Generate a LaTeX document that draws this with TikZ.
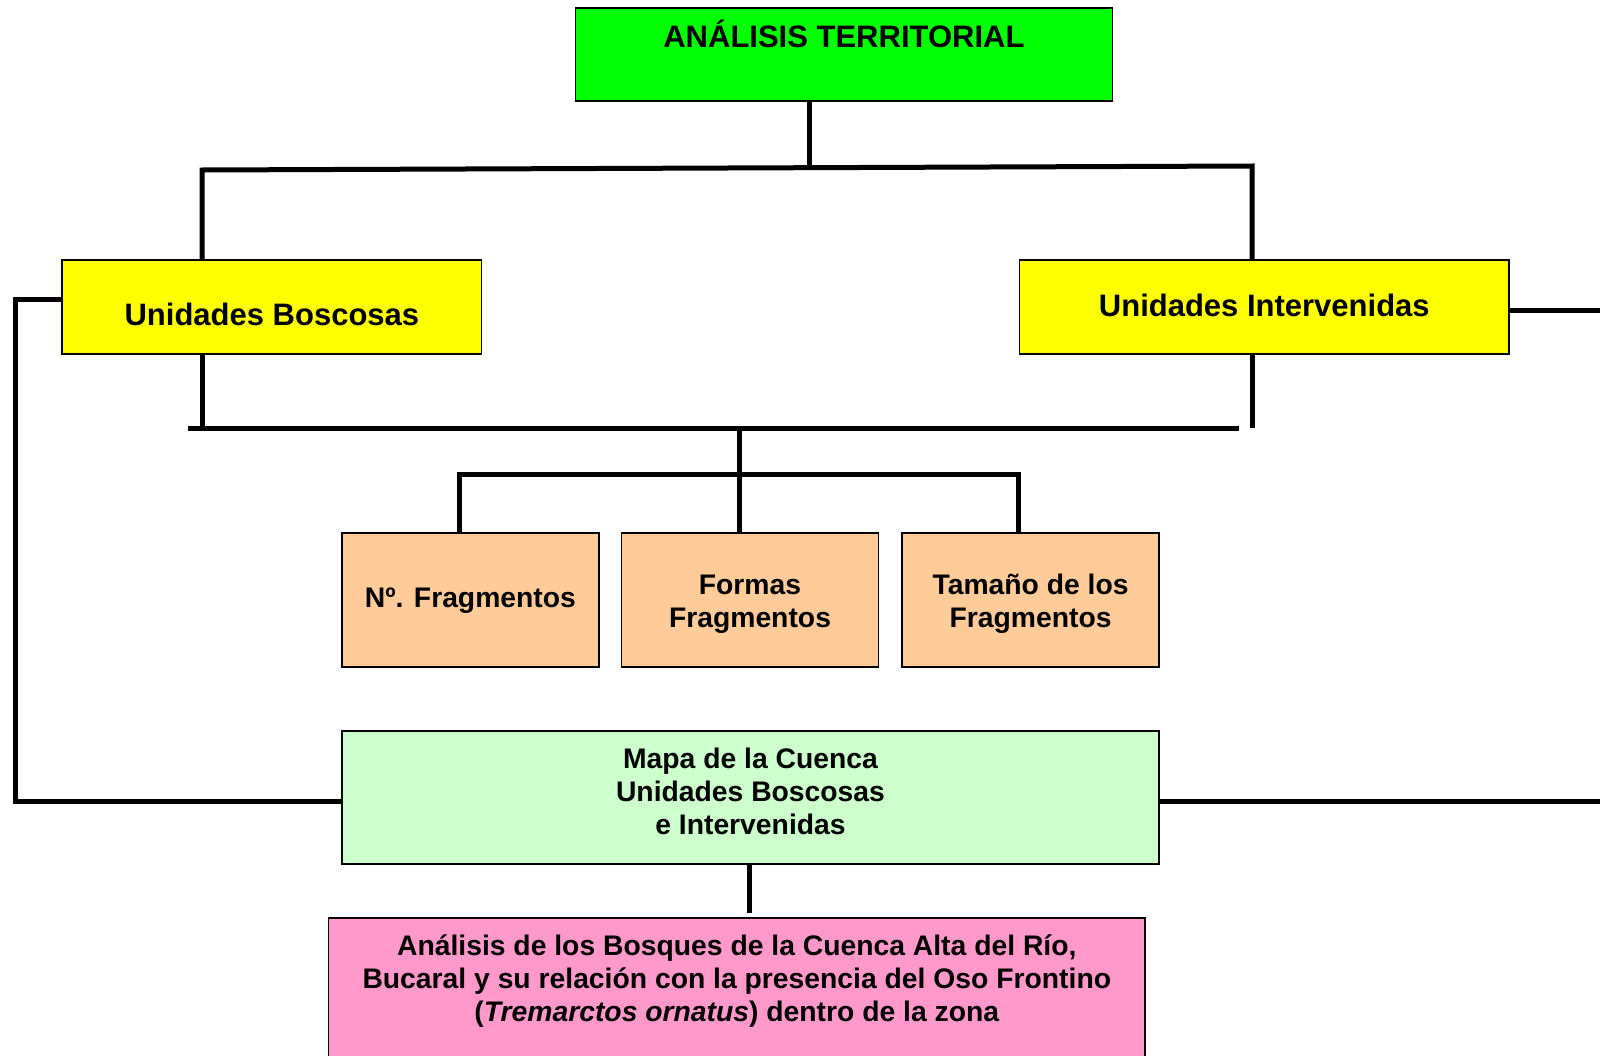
\documentclass[tikz,border=0pt]{standalone}
\usepackage{fontspec}
\setmainfont{Liberation Sans}
\usetikzlibrary{calc}
\definecolor{titlegreen}{HTML}{00FF00}
\definecolor{unityellow}{HTML}{FFFF00}
\definecolor{metricorange}{HTML}{FFCC99}
\definecolor{mapgreen}{HTML}{CCFFCC}
\definecolor{resultpink}{HTML}{FF99CC}
\begin{document}
\begin{tikzpicture}[x=1pt,y=-1pt,
  box/.style={draw=black, line width=1.5pt, inner sep=0pt, align=center},
  bigfont/.style={font=\fontsize{31}{36}\selectfont\bfseries},
  midfont/.style={font=\fontsize{28.3}{33}\selectfont\bfseries},
  metric/.style={box, midfont, fill=metricorange, minimum width=257pt, minimum height=134pt},
  wire/.style={line width=5pt},
]
\useasboundingbox (0,0) rectangle (1600,1055);

% boxes
\node[box, bigfont, fill=titlegreen, minimum width=537pt, minimum height=93pt,
      text height=25pt, text depth=38.4pt] (top) at (843.9,54.5) {ANÁLISIS TERRITORIAL};
\node[box, bigfont, fill=unityellow, minimum width=419.4pt, minimum height=94pt,
      text height=44.6pt, text depth=8pt] (ub) at (271.9,307) {Unidades Boscosas};
\node[box, bigfont, fill=unityellow, minimum width=489.8pt, minimum height=94pt,
      text height=26.4pt, text depth=8pt] (ui) at (1264.3,307) {Unidades Intervenidas};
\node[metric, text height=21pt, text depth=7pt] (f1) at (470.4,600) {Nº. Fragmentos};
\node[metric, text height=61.8pt, text depth=7pt] (f2) at (750,600) {Formas\\Fragmentos};
\node[metric, text height=61.8pt, text depth=7pt] (f3) at (1030.6,600) {Tamaño de los\\Fragmentos};
\node[box, midfont, fill=mapgreen, minimum width=817.4pt, minimum height=133pt,
      text height=81.2pt, text depth=7pt] (mapa)
      at (750.5,797.5) {Mapa de la Cuenca\\Unidades Boscosas\\e Intervenidas};
\node[box, midfont, fill=resultpink, minimum width=816.3pt, anchor=north,
      text height=103.5pt, text depth=60pt] (final) at (736.8,917.3)
      {Análisis de los Bosques de la Cuenca Alta del Río,\\
       Bucaral y su relación con la presencia del Oso Frontino\\
       (\textit{Tremarctos ornatus}) dentro de la zona};

% title to the two unit types
\coordinate (split) at (809,167.7);
\coordinate (lbranch) at (202,170);
\coordinate (rbranch) at (1252,166);
\draw[wire] (top.south -| split) -- (split);
\draw[wire] (ub.north -| lbranch) -- (lbranch) -- (rbranch) -- (ui.north -| rbranch);

% unit types to the fragment metrics
\coordinate (lbus) at (188,428);
\coordinate (rbus) at (1239,428);
\draw[wire] (ub.south -| lbranch) -- (lbranch |- lbus);
\draw[wire] (ui.south -| rbranch) -- (rbranch |- lbus);
\draw[wire] (lbus) -- (rbus);
\coordinate (drop) at (739,428);
\draw[wire] (drop) -- (f2.north -| drop);
\coordinate (fl) at (459,474.5);
\coordinate (fr) at (1018,474.5);
\draw[wire] (f1.north -| fl) -- (fl) -- (fr) -- (f3.north -| fr);

% unit types to the basin map
\coordinate (lw) at (15,299);
\coordinate (lwb) at (15,801);
\draw[wire] (ub.west |- lw) -- (lw) -- (lwb) -- (lwb -| mapa.west);
\coordinate (re) at (1602.2,310);
\coordinate (reb) at (1602.2,801);
\draw[wire] (ui.east |- re) -- (re) -- (reb) -- (reb -| mapa.east);

% basin map to the final analysis
\coordinate (mdrop) at (749,913.3);
\draw[wire] (mapa.south -| mdrop) -- (mdrop);
\end{tikzpicture}
\end{document}
